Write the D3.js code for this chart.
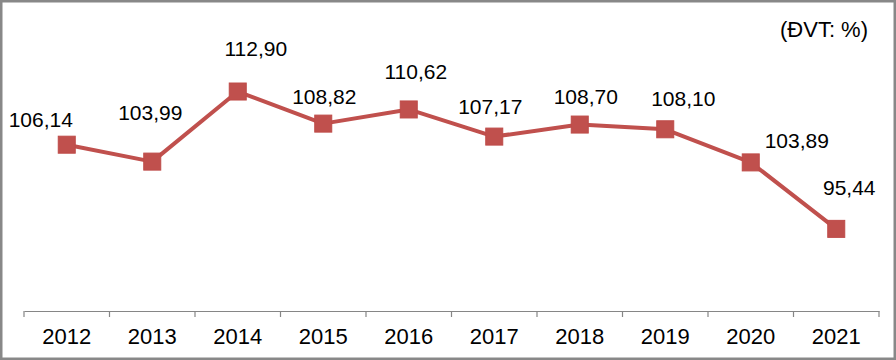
<!DOCTYPE html>
<html>
<head>
<meta charset="utf-8">
<script src="https://cdn.jsdelivr.net/npm/d3@7"></script>
<style>
  body { margin: 0; background: #fff; }
  svg text { font-family: "Liberation Sans", Arial, sans-serif; fill: #000; }
</style>
</head>
<body>
<div id="graph"></div>
<script>
// data
var years = ["2012", "2013", "2014", "2015", "2016", "2017", "2018", "2019", "2020", "2021"];
var values = [106.14, 103.99, 112.90, 108.82, 110.62, 107.17, 108.70, 108.10, 103.89, 95.44];
var unitLabel = "(ĐVT: %)";

// label nudges (layout only, px relative to marker)
var labelDx = [-26, -2, 18, 1, 7, -4, 6, 18, 46, 13];
var labelDy = [-18, -42, -36, -20, -30, -23, -21, -23, -14, -34];

var svgWidth = 896, svgHeight = 360;
var axisY = 311, plotTop = 75;
var lineColor = "#C0504D";

var svg = d3.select("#graph").append("svg")
  .attr("width", svgWidth)
  .attr("height", svgHeight);

// outer frame
svg.append("rect")
  .attr("x", 1.25).attr("y", 1.25)
  .attr("width", svgWidth - 2.5).attr("height", svgHeight - 2.5)
  .style("fill", "#fff")
  .style("stroke", "#888")
  .style("stroke-width", 2.5);

var xScale = d3.scaleBand().domain(years).range([24, 879]);
var yScale = d3.scaleLinear().domain([85, 115]).range([axisY, plotTop]);

function cx(d, i) { return xScale(years[i]) + xScale.bandwidth() / 2; }

// x axis
var xAxis = svg.append("g")
  .attr("transform", "translate(0," + axisY + ")")
  .call(d3.axisBottom(xScale).tickSize(0).tickPadding(0).tickFormat(""));
xAxis.select(".domain").attr("stroke", "#868686").attr("stroke-width", 1.2);

// ticks between categories
var bounds = years.map(function(y) { return xScale(y); }).concat([xScale.range()[1]]);
xAxis.selectAll("line.sep").data(bounds).enter().append("line")
  .attr("class", "sep")
  .attr("x1", function(d) { return d; }).attr("x2", function(d) { return d; })
  .attr("y1", 0).attr("y2", 6)
  .attr("stroke", "#868686").attr("stroke-width", 1.2);

xAxis.selectAll("text.cat").data(years).enter().append("text")
  .attr("class", "cat")
  .attr("x", function(d) { return xScale(d) + xScale.bandwidth() / 2; })
  .attr("y", 33)
  .attr("text-anchor", "middle")
  .style("font-size", "22px")
  .text(function(d) { return d; });

// line
var lineGenerator = d3.line()
  .x(function(d, i) { return cx(d, i); })
  .y(function(d) { return yScale(d); });

svg.append("path")
  .attr("d", lineGenerator(values))
  .style("fill", "none")
  .style("stroke", lineColor)
  .style("stroke-width", 4)
  .style("stroke-linejoin", "round");

// markers
var m = 17;
svg.selectAll("rect.marker").data(values).enter().append("rect")
  .attr("class", "marker")
  .attr("x", function(d, i) { return cx(d, i) - m / 2; })
  .attr("y", function(d) { return yScale(d) - m / 2; })
  .attr("width", m).attr("height", m)
  .style("fill", lineColor)
  .style("stroke", "#BE4B48")
  .style("stroke-width", 1);

// data labels
var fmt = function(v) { return d3.format(".2f")(v).replace(".", ","); };
svg.selectAll("text.val").data(values).enter().append("text")
  .attr("class", "val")
  .attr("x", function(d, i) { return cx(d, i) + labelDx[i]; })
  .attr("y", function(d, i) { return yScale(d) + labelDy[i]; })
  .attr("text-anchor", "middle")
  .style("font-size", "21px")
  .text(fmt);

// unit
svg.append("text")
  .attr("x", 868).attr("y", 37)
  .attr("text-anchor", "end")
  .style("font-size", "22px")
  .text(unitLabel);
</script>
</body>
</html>
